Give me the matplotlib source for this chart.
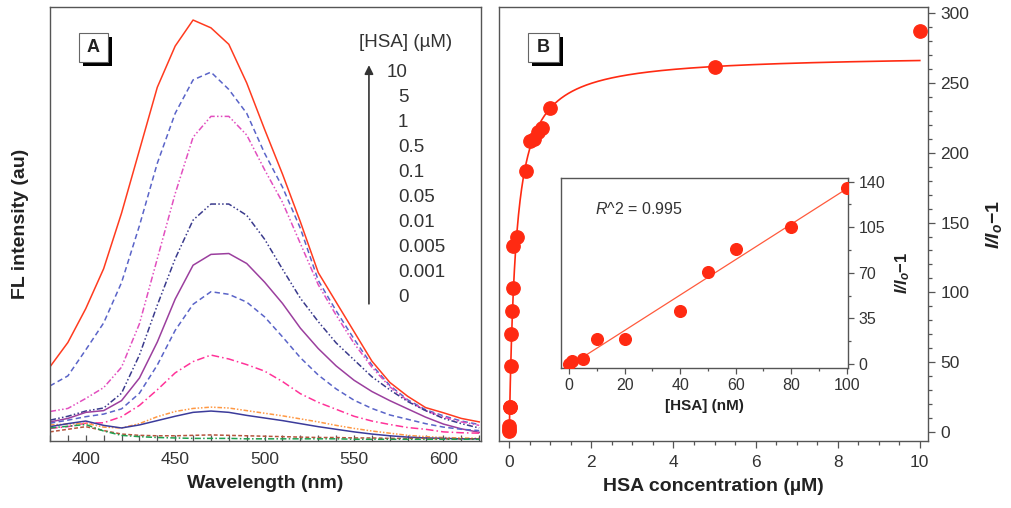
import numpy as np
import matplotlib
matplotlib.use("Agg")
import matplotlib.pyplot as plt
from matplotlib.patches import Rectangle
from matplotlib.ticker import MultipleLocator

plt.rcParams['font.family'] = ['Liberation Sans', 'DejaVu Sans']
plt.rcParams['mathtext.fontset'] = 'custom'
plt.rcParams['mathtext.rm'] = 'Liberation Sans'
plt.rcParams['mathtext.it'] = 'Liberation Sans:italic'
plt.rcParams['mathtext.bf'] = 'Liberation Sans:bold:italic'

# ---------------- Panel A: emission spectra ----------------
wavelength = np.arange(380, 621, 10)

spec_10 = [17.1, 22.7, 30.5, 39.7, 52.5, 67.0, 81.5, 91.0, 97.0, 95.2, 91.4, 82.5, 71.8,
           61.5, 50.5, 38.8, 32.0, 25.2, 18.4, 13.5, 10.3, 7.7, 6.5, 5.2, 4.4]
spec_5 = [12.7, 15.0, 21.0, 27.2, 36.5, 49.6, 64.0, 75.5, 83.2, 85.0, 81.0, 75.5, 66.3,
          58.5, 49.0, 37.0, 30.0, 23.5, 17.5, 12.8, 9.5, 7.2, 5.8, 4.6, 3.8]
spec_1 = [6.8, 7.5, 9.8, 12.3, 17.0, 27.0, 42.0, 57.0, 70.0, 74.8, 74.8, 70.5, 62.5,
          55.0, 45.5, 36.0, 29.0, 22.5, 17.0, 12.5, 9.3, 7.0, 5.5, 4.4, 3.6]
spec_05 = [4.8, 5.7, 6.9, 7.6, 11.0, 19.8, 31.3, 42.0, 50.9, 54.6, 54.6, 52.0, 46.5,
           39.6, 32.9, 27.5, 22.6, 18.7, 14.8, 11.8, 9.1, 7.0, 5.2, 4.0, 3.0]
spec_01 = [4.4, 5.2, 6.6, 7.0, 9.3, 14.5, 22.8, 32.7, 40.5, 43.0, 43.2, 40.9, 36.6,
           31.7, 26.0, 21.3, 17.3, 14.0, 11.4, 9.3, 7.4, 5.5, 3.9, 2.8, 2.0]
spec_005 = [4.1, 4.8, 5.6, 6.2, 7.4, 11.0, 17.5, 25.5, 31.5, 34.4, 33.8, 32.0, 28.6,
            24.0, 19.2, 15.2, 12.0, 9.4, 7.5, 6.0, 5.0, 4.0, 3.2, 2.7, 2.4]
spec_001 = [2.9, 3.3, 4.1, 4.2, 5.6, 8.2, 11.8, 15.7, 18.3, 19.8, 18.9, 17.6, 16.1,
            13.7, 10.9, 8.9, 7.3, 5.7, 4.6, 3.8, 3.1, 2.7, 2.1, 1.9, 1.8]
spec_0005 = [3.7, 3.9, 4.1, 3.2, 3.0, 4.0, 5.6, 6.8, 7.5, 7.8, 7.6, 7.0, 6.4,
             5.8, 5.1, 4.4, 3.6, 2.9, 2.3, 1.8, 1.3, 1.0, 0.8, 0.7, 0.6]
spec_0001 = [3.3, 4.0, 4.6, 3.6, 3.0, 3.7, 4.7, 5.7, 6.6, 6.9, 6.6, 5.9, 5.3,
             4.7, 4.0, 3.3, 2.7, 2.1, 1.6, 1.2, 0.9, 0.7, 0.6, 0.5, 0.5]
spec_0 = [2.1, 2.7, 3.3, 2.4, 1.6, 1.3, 1.2, 1.2, 1.3, 1.4, 1.3, 1.2, 1.1,
          1.0, 0.9, 0.8, 0.8, 0.7, 0.7, 0.6, 0.6, 0.6, 0.5, 0.5, 0.5]
spec_buffer = [3.0, 3.4, 3.8, 2.3, 1.3, 1.0, 0.8, 0.7, 0.6, 0.6, 0.6, 0.5, 0.5,
               0.5, 0.5, 0.5, 0.5, 0.4, 0.4, 0.4, 0.4, 0.4, 0.4, 0.4, 0.4]

conc_labels = ["10", "5", "1", "0.5", "0.1", "0.05", "0.01", "0.005", "0.001", "0"]

# ---------------- Panel B: titration ----------------
hsa_uM = [0, 0.001, 0.005, 0.01, 0.02, 0.04, 0.05, 0.06, 0.08, 0.1,
          0.2, 0.4, 0.5, 0.6, 0.7, 0.8, 1, 5, 10]
ratio_uM = [0.5, 2, 4, 18, 18, 47.5, 70, 86.5, 103, 133,
            140, 187, 208.5, 210, 215, 217.5, 232, 261, 287]

# binding isotherm parameters (Bmax, Kd in uM)
bmax, kd = 270.4, 0.166

# inset: linear range
hsa_nM = [0, 1, 5, 10, 20, 40, 50, 60, 80, 100]
ratio_nM = [0, 2, 4, 19, 19, 41, 71, 88, 105, 135]

ratio_label = r'$\mathbf{I/I}_{\mathbf{o}}$' + '\u22121'

# ---------------- figure ----------------
fig = plt.figure(figsize=(10.12, 5.08), dpi=100)
axA = fig.add_axes([0.0494, 0.1319, 0.4259, 0.8543])
axB = fig.add_axes([0.4931, 0.1319, 0.4239, 0.8543])
axI = fig.add_axes([0.5543, 0.2756, 0.2836, 0.374])

spine_c = '#555555'
tick_c = '#333333'
for ax in (axA, axB, axI):
    for s in ax.spines.values():
        s.set_color(spine_c)
        s.set_linewidth(1.0)

# spectra styles
styles = [
    (spec_10, '#ff3b1f', (None, None)),
    (spec_5, '#5a64c8', (3.5, 2.2)),
    (spec_1, '#e24fbf', (4, 1.5, 1, 1.5, 1, 1.5)),
    (spec_05, '#3a3a8c', (4, 1.5, 1, 1.5, 1, 1.5)),
    (spec_01, '#9b3f9e', (None, None)),
    (spec_005, '#5a64c8', (3.5, 2.2)),
    (spec_001, '#ff3399', (5, 2, 1, 2)),
    (spec_0005, '#ff9944', (3, 1.2, 1, 1.2, 1, 1.2)),
    (spec_0001, '#3b3b9b', (None, None)),
    (spec_0, '#b5533c', (2.5, 1.5)),
    (spec_buffer, '#1fa050', (4, 1.5, 1, 1.5)),
]
for ys, col, dash in styles:
    ln, = axA.plot(wavelength, ys, color=col, lw=1.1)
    if dash[0] is not None:
        ln.set_dashes(dash)

axA.set_xlim(380, 621)
axA.set_ylim(0, 100)
axA.set_yticks([])
axA.xaxis.set_major_locator(MultipleLocator(50))
axA.xaxis.set_minor_locator(MultipleLocator(10))
axA.tick_params(axis='x', which='both', direction='in', length=4, width=0.9,
                color=spine_c, labelsize=12.5, labelcolor=tick_c, pad=8)
axA.set_xlabel('Wavelength (nm)', fontsize=14, fontweight='bold', color='#222222', labelpad=6)
fig.text(0.0198, 0.559, 'FL intensity (au)', rotation=90, ha='center', va='center',
         fontsize=14, fontweight='bold', color='#222222')

# concentration legend with arrow
axA.text(0.826, 0.919, '[HSA] (\u00b5M)', transform=axA.transAxes, ha='center', va='center',
         fontsize=13.5, color='#333333')
for i, lab in enumerate(conc_labels):
    ypx = 72 + i * 25.1
    yf = (441 - ypx) / 434
    xf = 0.782 if lab == "10" else 0.807
    axA.text(xf, yf, lab, transform=axA.transAxes, ha='left', va='center',
             fontsize=13.5, color='#333333')
axA.annotate('', xy=(0.740, 0.866), xytext=(0.740, 0.316), xycoords='axes fraction',
             arrowprops=dict(arrowstyle='-|>', color='#333333', lw=1.2,
                             mutation_scale=13, shrinkA=0, shrinkB=0))


def panel_tag(ax, x0, y0, w, h, tag, sx, sy):
    ax.add_patch(Rectangle((x0 + sx, y0 - sy), w, h, transform=ax.transAxes,
                           facecolor='black', edgecolor='black', lw=0, zorder=5))
    ax.add_patch(Rectangle((x0, y0), w, h, transform=ax.transAxes,
                           facecolor='white', edgecolor='#666666', lw=0.8, zorder=6))
    ax.text(x0 + w / 2, y0 + h / 2, tag, transform=ax.transAxes, ha='center',
            va='center', fontsize=13, fontweight='bold', color='#222222', zorder=7)


panel_tag(axA, 0.0673, 0.873, 0.0673, 0.067, 'A', 0.0093, 0.0092)
panel_tag(axB, 0.0676, 0.873, 0.0720, 0.067, 'B', 0.0093, 0.0092)

# ---------------- Panel B drawing ----------------
red = '#ff2a12'
xfit = np.linspace(0, 10, 800)
axB.plot(xfit, bmax * xfit / (kd + xfit), color=red, lw=1.2, zorder=2)
axB.plot(hsa_uM, ratio_uM, 'o', color=red, ms=9.6, mec=red, zorder=3)
axB.set_xlim(-0.25, 10.2)
axB.set_ylim(-6.4, 304.3)
axB.yaxis.tick_right()
axB.yaxis.set_label_position('right')
axB.xaxis.set_major_locator(MultipleLocator(2))
axB.xaxis.set_minor_locator(MultipleLocator(0.5))
axB.yaxis.set_major_locator(MultipleLocator(50))
axB.yaxis.set_minor_locator(MultipleLocator(10))
axB.tick_params(which='both', direction='out', color=spine_c, width=0.9,
                labelsize=12.5, labelcolor=tick_c)
axB.tick_params(which='major', length=5)
axB.tick_params(which='minor', length=3)
axB.tick_params(axis='x', pad=5)
axB.tick_params(axis='y', pad=4)
axB.set_xlabel('HSA concentration (\u00b5M)', fontsize=14, fontweight='bold',
               color='#222222', labelpad=6)
axB.set_ylabel(ratio_label, fontsize=14, fontweight='bold', color='#222222', labelpad=10)

# ---------------- inset ----------------
slope, icpt = np.polyfit(hsa_nM, ratio_nM, 1)
xl = np.array([-2, 100])
axI.plot(xl, slope * xl + icpt, color='#ff5a3c', lw=0.9, zorder=2)
axI.plot(hsa_nM, ratio_nM, 'o', color=red, ms=8.4, mec=red, zorder=3)
axI.set_xlim(-3, 100.5)
axI.set_ylim(-3, 142.8)
axI.yaxis.tick_right()
axI.yaxis.set_label_position('right')
axI.xaxis.set_major_locator(MultipleLocator(20))
axI.xaxis.set_minor_locator(MultipleLocator(10))
axI.yaxis.set_major_locator(MultipleLocator(35))
axI.yaxis.set_minor_locator(MultipleLocator(17.5))
axI.tick_params(which='both', direction='out', color=spine_c, width=0.9,
                labelsize=11.5, labelcolor=tick_c)
axI.tick_params(which='major', length=4)
axI.tick_params(which='minor', length=2.5)
axI.set_xlabel('[HSA] (nM)', fontsize=11, fontweight='bold', color='#222222', labelpad=4)
axI.set_ylabel(ratio_label, fontsize=12, fontweight='bold', color='#222222', labelpad=6)
axI.text(0.118, 0.837, r'$R$^2 = 0.995', transform=axI.transAxes, ha='left', va='center',
         fontsize=11.5, color='#333333')

fig.savefig('out.png', dpi=100, facecolor='white')
